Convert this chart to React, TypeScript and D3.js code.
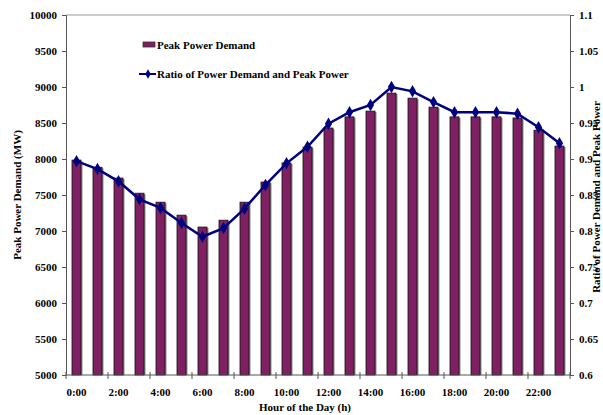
import React, { useEffect, useRef } from 'react';
import * as d3 from 'd3';

// hourly peak demand (MW) and ratio to the daily peak
const hours = d3.range(24);
const demand = [7985, 7885, 7735, 7525, 7400, 7220, 7055, 7150, 7400, 7680, 7945, 8165,
  8430, 8585, 8665, 8915, 8845, 8720, 8585, 8585, 8585, 8570, 8400, 8180];
const ratio = [0.897, 0.886, 0.869, 0.844, 0.832, 0.811, 0.792, 0.804, 0.831, 0.864, 0.894, 0.917,
  0.949, 0.965, 0.975, 1.0, 0.994, 0.979, 0.965, 0.965, 0.965, 0.963, 0.944, 0.922];
const leftTicks = d3.range(5000, 10001, 500);
const rightTicks = [0.6, 0.65, 0.7, 0.75, 0.8, 0.85, 0.9, 0.95, 1, 1.05, 1.1];
const xLabels = ['0:00', '2:00', '4:00', '6:00', '8:00', '10:00', '12:00', '14:00', '16:00', '18:00', '20:00', '22:00'];

const BAR_COLOR = '#7f2062';
const LINE_COLOR = '#000080';
const FONT = '"Liberation Serif", "Times New Roman", serif';

const App = () => {
  const svgRef = useRef<SVGSVGElement>(null);

  useEffect(() => {
    const svg = d3.select(svgRef.current);
    svg.selectAll('*').remove();

    const width = 603;
    const height = 415;
    const margin = { top: 15, right: 33, bottom: 40, left: 66 };
    const innerWidth = width - margin.left - margin.right;
    const innerHeight = height - margin.top - margin.bottom;

    svg.attr('width', width).attr('height', height)
      .style('font-family', FONT).style('font-weight', 'bold');

    const g = svg.append('g').attr('transform', `translate(${margin.left},${margin.top})`);

    const x = d3.scaleBand<number>().domain(hours).range([0, innerWidth]);
    const y = d3.scaleLinear().domain([5000, 10000]).range([innerHeight, 0]);
    const y2 = d3.scaleLinear().domain([0.6, 1.1]).range([innerHeight, 0]);

    // frame: top border
    g.append('line')
      .attr('x1', 0).attr('x2', innerWidth).attr('y1', 0).attr('y2', 0)
      .attr('stroke', '#999').attr('stroke-width', 1);

    const barW = 9;
    // bar shadows
    g.selectAll('.shadow')
      .data(hours)
      .join('rect')
      .attr('class', 'shadow')
      .attr('x', d => x(d)! + x.bandwidth() / 2 - barW / 2 + 1.5)
      .attr('y', d => y(demand[d]) + 1)
      .attr('width', barW)
      .attr('height', d => innerHeight - y(demand[d]) - 1)
      .attr('fill', '#8a8a8a');

    g.selectAll('.bar')
      .data(hours)
      .join('rect')
      .attr('class', 'bar')
      .attr('x', d => x(d)! + x.bandwidth() / 2 - barW / 2)
      .attr('y', d => y(demand[d]))
      .attr('width', barW)
      .attr('height', d => innerHeight - y(demand[d]))
      .attr('fill', BAR_COLOR)
      .attr('stroke', '#111')
      .attr('stroke-width', 0.8);

    // left axis
    const leftAxis = g.append('g')
      .call(d3.axisLeft(y).tickValues(leftTicks).tickSize(4).tickPadding(5).tickFormat(d3.format('d')));
    leftAxis.select('.domain').attr('stroke', '#555');
    leftAxis.selectAll('.tick line').attr('stroke', '#555');
    leftAxis.selectAll('text').attr('font-size', 11).attr('font-family', FONT).attr('font-weight', 'bold').attr('fill', '#000');

    // right axis
    const rightAxis = g.append('g')
      .attr('transform', `translate(${innerWidth},0)`)
      .call(d3.axisRight(y2).tickValues(rightTicks).tickSize(4).tickPadding(5).tickFormat(d => `${+d}`));
    rightAxis.select('.domain').attr('stroke', '#555');
    rightAxis.selectAll('.tick line').attr('stroke', '#555');
    rightAxis.selectAll('text').attr('font-size', 11).attr('font-family', FONT).attr('font-weight', 'bold').attr('fill', '#000');

    // bottom axis: ticks every two hours at band edges, labels centred on even-hour bars
    const xLin = d3.scaleLinear().domain([0, 24]).range([0, innerWidth]);
    const bottom = g.append('g').attr('transform', `translate(0,${innerHeight})`);
    bottom.append('line')
      .attr('x1', 0).attr('x2', innerWidth).attr('stroke', '#555');
    bottom.selectAll('.xt')
      .data(d3.range(0, 25, 2))
      .join('line')
      .attr('class', 'xt')
      .attr('x1', d => xLin(d)).attr('x2', d => xLin(d))
      .attr('y1', -3).attr('y2', 4)
      .attr('stroke', '#555');
    bottom.selectAll('.xl')
      .data(xLabels)
      .join('text')
      .attr('class', 'xl')
      .attr('x', (d, i) => x(i * 2)! + x.bandwidth() / 2)
      .attr('y', 21)
      .attr('text-anchor', 'middle')
      .attr('font-size', 11)
      .text(d => d);

    // ratio line
    const line = d3.line<number>()
      .x(d => x(d)! + x.bandwidth() / 2)
      .y(d => y2(ratio[d]));
    g.append('path')
      .datum(hours)
      .attr('d', line)
      .attr('fill', 'none')
      .attr('stroke', LINE_COLOR)
      .attr('stroke-width', 2.5);
    const diamond = d3.symbol().type(d3.symbolDiamond).size(45);
    g.selectAll('.pt')
      .data(hours)
      .join('path')
      .attr('class', 'pt')
      .attr('transform', d => `translate(${x(d)! + x.bandwidth() / 2},${y2(ratio[d])})`)
      .attr('d', diamond)
      .attr('fill', LINE_COLOR);

    // axis titles
    svg.append('text')
      .attr('transform', `translate(21,195) rotate(-90)`)
      .attr('text-anchor', 'middle')
      .attr('font-size', 11)
      .text('Peak Power Demand (MW)');
    svg.append('text')
      .attr('transform', `translate(600,197) rotate(-90)`)
      .attr('text-anchor', 'middle')
      .attr('font-size', 11)
      .text('Ratio of Power Demand and Peak Power');
    svg.append('text')
      .attr('x', 305)
      .attr('y', 411)
      .attr('text-anchor', 'middle')
      .attr('font-size', 11)
      .text('Hour of the Day (h)');

    // legend
    const legend = svg.append('g').attr('transform', 'translate(143,0)');
    legend.append('rect')
      .attr('x', 0).attr('y', 42).attr('width', 12).attr('height', 5)
      .attr('fill', BAR_COLOR).attr('stroke', '#333').attr('stroke-width', 0.8);
    legend.append('text')
      .attr('x', 14).attr('y', 49).attr('font-size', 11)
      .text('Peak Power Demand');
    legend.append('line')
      .attr('x1', -4).attr('x2', 13).attr('y1', 74).attr('y2', 74)
      .attr('stroke', LINE_COLOR).attr('stroke-width', 2);
    legend.append('path')
      .attr('transform', 'translate(5,74)')
      .attr('d', d3.symbol().type(d3.symbolDiamond).size(25)())
      .attr('fill', LINE_COLOR);
    legend.append('text')
      .attr('x', 14).attr('y', 78).attr('font-size', 11)
      .text('Ratio of Power Demand and Peak Power');
  }, []);

  return (
    <svg ref={svgRef} style={{ position: 'absolute', left: 0, top: 0, background: '#fff' }}></svg>
  );
};

export default App;
